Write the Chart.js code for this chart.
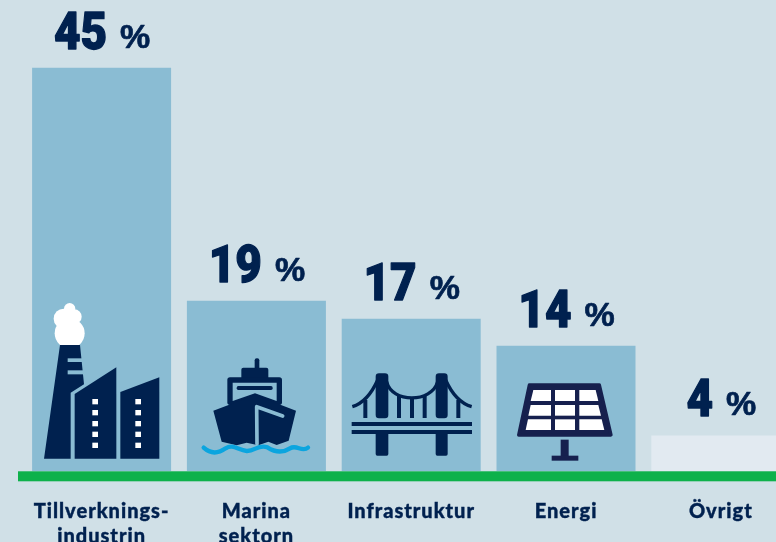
<!DOCTYPE html>
<html><head><meta charset="utf-8">
<style>html,body{margin:0;padding:0;width:776px;height:542px;overflow:hidden;background:#D0E0E7}canvas{display:block}</style>
<script src="https://cdn.jsdelivr.net/npm/chart.js@4/dist/chart.umd.min.js"></script>
</head><body><canvas id="c" width="820" height="542"></canvas>
<script>
const categories=[["Tillverknings-","industrin"],["Marina","sektorn"],"Infrastruktur","Energi","Övrigt"];
const shares=[45,19,17,14,4];
const barColors=["#8ABCD3","#8ABCD3","#8ABCD3","#8ABCD3","#E2EAF1"];
const NAVY="#00214F",SOLAR="#16204E",GREEN="#0DB14B",BLUE="#0BA5DF";

function poly(c,pts){c.beginPath();pts.forEach((p,i)=>i?c.lineTo(p[0],p[1]):c.moveTo(p[0],p[1]));c.closePath();c.fill();}
function rect(c,x0,y0,x1,y1){c.fillRect(x0,y0,x1-x0,y1-y0);}
function round(c,x0,y0,x1,y1,r){c.beginPath();c.roundRect(x0,y0,x1-x0,y1-y0,r);c.fill();}
function factory(c,bg){
  c.fillStyle=NAVY;
  poly(c,[[120,165],[180,165],[192,283],[152,308],[152,506],[72,506]]);
  poly(c,[[164,312],[289,232],[289,506],[164,506]]);
  poly(c,[[301,306],[418,262],[418,506],[301,506]]);
  c.fillStyle=bg;rect(c,143,205,186,216);rect(c,143,241,190,253);
  c.fillStyle="#fff";
  [327,360,393,425,458].forEach(y=>{rect(c,217,y,234,y+16);rect(c,346,y,363,y+16);});
  c.save();c.beginPath();c.rect(60,20,160,145);c.clip();
  [[149,130,45],[131,86,30],[163,80,22],[149,56,17]].forEach(a=>{c.beginPath();c.arc(a[0],a[1],a[2],0,7);c.fill();});
  c.restore();
}
function ship(c,bg){
  c.fillStyle=NAVY;
  round(c,704,205,718,240,6);round(c,664,233,745,268,6);round(c,622,262,786,345,8);
  c.fillStyle=bg;poly(c,[[638,278],[770,278],[770,333],[705,310],[638,333]]);
  c.fillStyle=NAVY;round(c,650,288,758,300,5);
  poly(c,[[580,362],[705,315],[828,362],[806,452],[770,465],[745,455],[715,466],[680,458],[650,466],[605,455]]);
  c.strokeStyle=bg;c.lineWidth=11;c.lineCap="round";c.lineJoin="round";
  c.beginPath();c.moveTo(711,462);c.lineTo(710,350);c.lineTo(788,378);c.stroke();
  c.strokeStyle=BLUE;c.lineWidth=13;
  c.beginPath();c.moveTo(551,473);
  c.bezierCurveTo(575,495,600,487,617,475);c.bezierCurveTo(640,460,655,482,680,483);c.bezierCurveTo(705,484,715,462,742,472);c.bezierCurveTo(770,490,790,488,810,475);c.bezierCurveTo(830,462,845,488,864,473);
  c.stroke();
}
function bridge(c){
  c.fillStyle=NAVY;
  round(c,122,250,160,385,10);round(c,302,250,338,385,10);
  round(c,122,425,160,497,5);round(c,302,425,338,497,5);
  rect(c,50,396,411,408);rect(c,50,420,411,432);
  rect(c,85,330,97,384);rect(c,186,315,198,384);rect(c,225,325,237,384);rect(c,263,315,275,384);rect(c,364,330,376,384);
  c.strokeStyle=NAVY;c.lineWidth=10;c.lineCap="butt";
  c.beginPath();c.moveTo(52,350);c.bezierCurveTo(85,340,110,310,128,270);c.stroke();
  c.beginPath();c.moveTo(155,275);c.bezierCurveTo(170,340,290,340,308,275);c.stroke();
  c.beginPath();c.moveTo(332,270);c.bezierCurveTo(350,310,375,340,410,350);c.stroke();
}
function solar(c){
  c.fillStyle=SOLAR;c.strokeStyle=SOLAR;c.lineWidth=10;c.lineJoin="round";
  c.beginPath();c.moveTo(583,285);c.lineTo(793,285);c.lineTo(828,435);c.lineTo(551,435);c.closePath();c.fill();c.stroke();
  rect(c,677,449,701,500);rect(c,650,497,730,512);
  c.fillStyle="#fff";
  poly(c,[[595,300],[648,300],[648,333],[587,333]]);rect(c,660,300,720,333);poly(c,[[733,300],[782,300],[790,333],[733,333]]);
  poly(c,[[587,345],[648,345],[648,377],[580,377]]);rect(c,660,345,720,377);poly(c,[[733,345],[790,345],[798,377],[733,377]]);
  poly(c,[[579,388],[648,388],[648,420],[572,420]]);rect(c,660,388,720,420);poly(c,[[733,388],[800,388],[808,420],[733,420]]);
}
const icons=[[factory,-81.6],[ship,-236.4],[bridge,-76.2],[solar,-231]];

const decor={
  id:"decor",
  beforeDraw(ch){ch.ctx.letterSpacing="1px";},
  afterDatasetsDraw(ch){
    const c=ch.ctx,bars=ch.getDatasetMeta(0).data,y0=ch.scales.y.getPixelForValue(0);
    c.save();c.letterSpacing="0px";
    c.fillStyle=GREEN;c.fillRect(18,y0,ch.width,10);
    icons.forEach((ic,i)=>{
      c.save();c.translate(bars[i].x+ic[1],471-181);c.scale(1/3,1/3);
      ic[0](c,barColors[i]);c.restore();
    });
    c.textBaseline="alphabetic";c.textAlign="left";
    const sx=0.9;
    bars.forEach((b,i)=>{
      const num=String(shares[i]),pct="%";
      c.font='900 51px Roboto';const w1=c.measureText(num).width*sx;
      c.font='bold 34px "Liberation Sans"';const w2=c.measureText(pct).width;
      const gap=13,x=b.x+0.5-(w1+gap+w2)/2,y=b.y-19;
      c.fillStyle=NAVY;c.strokeStyle=NAVY;c.lineJoin="round";
      c.save();c.translate(x,y);c.scale(sx,1);
      c.font='900 51px Roboto';c.lineWidth=1.3;c.fillText(num,0,0);c.strokeText(num,0,0);c.restore();
      c.font='bold 34px "Liberation Sans"';c.lineWidth=0.7;c.fillText(pct,x+w1+gap,y-1);c.strokeText(pct,x+w1+gap,y-1);
    });
    c.restore();
  }
};
new Chart(document.getElementById("c"),{
  type:"bar",
  data:{labels:categories,datasets:[{data:shares,backgroundColor:barColors,borderWidth:0,barPercentage:139/154.8,categoryPercentage:1}]},
  plugins:[decor],
  options:{
    responsive:false,animation:false,
    layout:{padding:{left:24.2,right:21.8,top:22.8,bottom:0}},
    plugins:{legend:{display:false},tooltip:{enabled:false}},
    scales:{
      y:{display:false,min:0,max:50},
      x:{
        afterFit(s){s.height=70.7;},
        grid:{display:false,drawTicks:false},border:{display:false},
        ticks:{color:NAVY,textStrokeColor:NAVY,textStrokeWidth:0.4,maxRotation:0,minRotation:0,autoSkip:false,padding:28,font:{family:"Lato",weight:"900",size:20,lineHeight:1.25}}
      }
    }
  }
});
</script></body></html>
